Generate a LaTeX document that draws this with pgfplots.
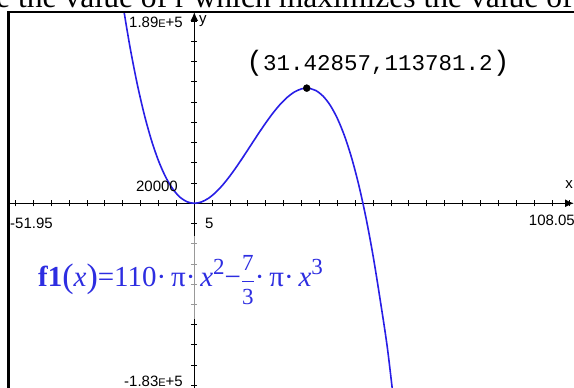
\documentclass[border=0pt]{standalone}
\usepackage{pgfplots}
\pgfplotsset{compat=1.18}
\usepackage{fontspec}
\setmainfont{Liberation Serif}
\newfontfamily\tisans{Liberation Sans}
\newfontfamily\timono{Liberation Mono}
\usetikzlibrary{arrows.meta}
\definecolor{curveblue}{RGB}{40,30,230}
\definecolor{textblue}{RGB}{45,45,225}
\newcommand{\smallE}{{\fontsize{11}{12}\selectfont E}}
\newcommand{\sups}[1]{\raisebox{12pt}{\fontsize{23}{25}\selectfont #1}}
\newcommand{\fracd}[1]{\hbox{\fontsize{23}{25}\selectfont #1}}
\begin{document}
\begin{tikzpicture}[x=1pt,y=1pt]
\useasboundingbox (0,0) rectangle (574,388);
\clip (0,0) rectangle (574,388);
\node[anchor=base west, inner sep=0, font=\fontsize{31.6}{34}\selectfont] at (-4,380) {e the value of r which maximizes the value of};
\fill[white] (0,0) rectangle (574,377);
\begin{axis}[at={(8.5pt,0pt)}, anchor=south west, scale only axis,
  width=565.5pt, height=376pt,
  xmin=-51.95, xmax=106.15, ymin=-182500, ymax=189000,
  axis lines=middle,
  axis line style={black, line width=1.4pt},
  x axis line style={-{Latex[length=9pt,width=8pt]}},
  y axis line style={-{Latex[length=9pt,width=8pt]}},
  xtick={-50,-45,-40,-35,-30,-25,-20,-15,-10,-5,5,10,15,20,25,30,35,40,45,50,55,60,65,70,75,80,85,90,95,100,105},
  ytick={-180000,-160000,-140000,-120000,-100000,-80000,-60000,-40000,-20000,20000,40000,60000,80000,100000,120000,140000,160000,180000},
  xticklabels={}, yticklabels={},
  tick style={black, line width=1pt}, major tick length=6pt, tick align=center,
  clip mode=individual]
\addplot[curveblue, line width=1.6pt, smooth] coordinates {
(-21,220284) (-20,196873) (-18,154716) (-16,118493) (-14,87847) (-12,62430)
(-10,41888) (-8,25870) (-6,14024) (-4,5998) (-2,1441) (0,0) (2,1324) (4,5060)
(6,10857) (8,18364) (10,27227) (12,37096) (14,47618) (16,58442) (18,69215)
(20,79587) (22,89204) (24,97716) (26,104770) (28,110014) (30,113097)
(31.42857,113781) (32,113668) (34,111372) (36,105860) (38,96779) (40,83776)
(42,66502) (44,44602) (46,17727) (48,-14476) (50,-52360) (52,-96275)
(54,-143520) (56,-203608)};
\addplot[only marks, mark=*, mark size=3.5pt, black] coordinates {(31.42857,113781.2)};
\end{axis}
% translucent label background over the y-axis
\fill[white, opacity=0.6] (30,69) rectangle (340,152);
% frame
\draw[line width=2.5pt] (8.5,-5) -- (8.5,376) -- (580,376);
% tick labels
\begin{scope}[every node/.style={inner sep=0, font=\tisans\fontsize{15}{16}\selectfont}]
\node[anchor=east] at (183,366) {1.89\smallE+5};
\node[anchor=west] at (199,367) {y};
\node[anchor=east] at (178,202) {20000};
\node[anchor=west] at (10,165) {-51.95};
\node[anchor=west] at (205,165) {5};
\node[anchor=east] at (575,168) {108.05};
\node at (569,203) {x};
\node[anchor=east] at (183,7) {-1.83\smallE+5};
\end{scope}
% point label
\node[inner sep=0, font=\timono\fontsize{22.5}{26}\selectfont] at (378,325) {\fontsize{28}{30}\selectfont(\fontsize{22.5}{26}\selectfont31.42857,113781.2\fontsize{28}{30}\selectfont)};
% function label
\node[anchor=base west, inner sep=0, text=textblue, font=\fontsize{29}{32}\selectfont] at (38,101)
 {\textbf{f1}\raisebox{-1pt}{\fontsize{34}{36}\selectfont(}\textit{x}\raisebox{-1pt}{\fontsize{34}{36}\selectfont)}=110·\,π·\,\textit{x}\sups{2}−$\displaystyle\frac{\fracd{7}}{\fracd{3}}$·\,π·\,\textit{x}\sups{3}};
\end{tikzpicture}
\end{document}
